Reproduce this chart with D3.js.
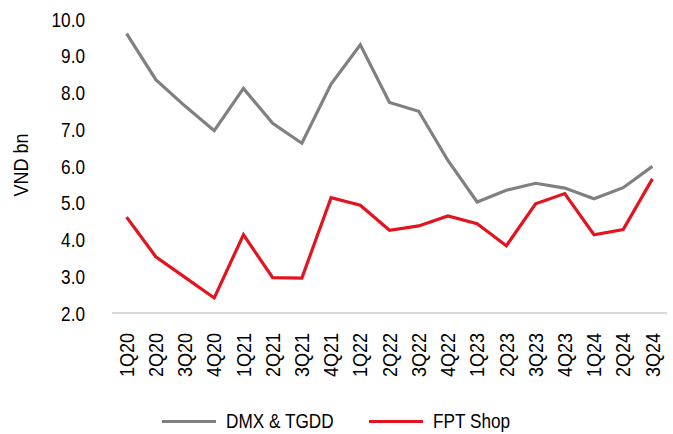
<!DOCTYPE html>
<html><head><meta charset="utf-8">
<script src="https://cdnjs.cloudflare.com/ajax/libs/d3/7.8.5/d3.min.js"></script>
<style>body{margin:0;background:#fff}svg{display:block}text{font-family:"Liberation Sans",Arial,sans-serif;fill:#000}</style>
</head><body><div id="chart"></div>
<script>
const categories = ["1Q20","2Q20","3Q20","4Q20","1Q21","2Q21","3Q21","4Q21","1Q22","2Q22","3Q22","4Q22","1Q23","2Q23","3Q23","4Q23","1Q24","2Q24","3Q24"];
const dmxTgdd = [9.6,8.35,7.63,6.96,8.11,7.16,6.62,8.23,9.3,7.73,7.49,6.15,5.02,5.34,5.53,5.4,5.11,5.41,5.99];
const fptShop = [4.61,3.53,2.97,2.41,4.13,2.96,2.95,5.14,4.93,4.25,4.37,4.64,4.43,3.83,4.97,5.25,4.13,4.27,5.65];
const yTicks = [2,3,4,5,6,7,8,9,10];
const seriesNames = ["DMX & TGDD","FPT Shop"];
const colors = ["#808080","#e2141f"];

const W = 673, H = 434, SX = 0.86;
const svg = d3.select("#chart").append("svg").attr("width", W).attr("height", H);
const x = d3.scaleBand().domain(categories).range([112, 667]);
const y = d3.scaleLinear().domain([2, 10]).range([313, 19]);

// y tick labels
const yAxis = svg.append("g").attr("transform","translate(85,0)")
  .call(d3.axisLeft(y).tickValues(yTicks).tickFormat(d3.format(".1f")).tickSize(0).tickPadding(0));
yAxis.select(".domain").remove();
yAxis.selectAll("text").style("font-size","20px").attr("font-family", null)
  .attr("x",0).attr("dy","0.36em").attr("transform",`scale(${SX},1)`);

// x axis
const xAxis = svg.append("g").attr("transform","translate(0,313)")
  .call(d3.axisBottom(x).tickSize(0).tickPadding(0));
xAxis.select(".domain").attr("stroke","#d9d9d9").attr("stroke-width",2).attr("d","M112,0H667");
xAxis.selectAll("text").style("font-size","20px").attr("font-family", null)
  .attr("text-anchor","end").attr("transform","rotate(-90) scale(0.9,1)")
  .attr("x",-20/0.9).attr("y",0).attr("dy","0.36em");

svg.append("text").attr("transform","translate(28,165) rotate(-90) scale(0.9,1)")
  .attr("text-anchor","middle").style("font-size","20px").text("VND bn");

const line = d3.line().x((d,i)=>x(categories[i]) + x.bandwidth()/2).y(d=>y(d));
[dmxTgdd, fptShop].forEach((s,i)=>{
  svg.append("path").datum(s).attr("d", line).attr("fill","none")
    .attr("stroke", colors[i]).attr("stroke-width",3.2).attr("stroke-linejoin","miter");
});

// legend
const lg = [{x:162, tx:226}, {x:369, tx:433}];
seriesNames.forEach((n,i)=>{
  svg.append("line").attr("x1",lg[i].x).attr("x2",lg[i].x+54).attr("y1",421.5).attr("y2",421.5)
    .attr("stroke",colors[i]).attr("stroke-width",3.2);
  svg.append("text").attr("transform",`translate(${lg[i].tx},421) scale(${SX},1)`)
    .attr("dy","0.36em").style("font-size","20px").text(n);
});
</script></body></html>
